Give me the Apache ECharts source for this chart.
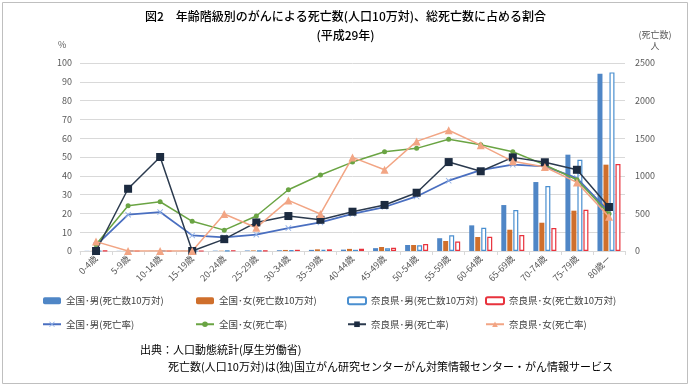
<!DOCTYPE html>
<html><head><meta charset="utf-8">
<script src="https://cdn.jsdelivr.net/npm/echarts@6/dist/echarts.min.js"></script>
<style>html,body{margin:0;padding:0;background:#fff}#c{width:691px;height:387px}</style>
</head><body><div id="c"></div>
<script>
const categories = ['0-4歳','5-9歳','10-14歳','15-19歳','20-24歳','25-29歳','30-34歳','35-39歳','40-44歳','45-49歳','50-54歳','55-59歳','60-64歳','65-69歳','70-74歳','75-79歳','80歳ー'];
const zenkokuMaleDeaths   = [2, 2, 2, 3, 4.5, 6.5, 10, 15, 18, 38, 80, 170, 341, 611, 917, 1281, 2358];
const zenkokuFemaleDeaths = [2, 1.5, 1.5, 2, 4, 7.5, 14, 22, 28, 53, 80, 133, 186, 283, 376, 536, 1148];
const naraMaleDeaths      = [0, 2, 2, 0, 3, 5, 8, 14, 16, 35, 75, 210, 310, 545, 864, 1214, 2375];
const naraFemaleDeaths    = [4, 0, 0, 0, 6, 5, 16, 22, 30, 44, 93, 126, 190, 213, 306, 549, 1157];
const zenkokuMaleRate   = [3, 19.3, 20.7, 8.3, 7.3, 8.7, 12.2, 15.2, 19.7, 23.4, 29.0, 37.4, 43.0, 45.9, 45.0, 38.8, 21.0];
const zenkokuFemaleRate = [3.5, 24.1, 26.2, 15.8, 11.1, 18.6, 32.6, 40.4, 47.3, 52.8, 54.6, 59.4, 56.5, 52.8, 45.8, 37.9, 19.8];
const naraMaleRate      = [0, 33.1, 50, 0, 6.3, 15.2, 18.6, 16.6, 20.9, 24.5, 31.0, 47.3, 42.4, 49.8, 47.2, 43.2, 23.4];
const naraFemaleRate    = [5, 0, 0, 0, 19.7, 12.4, 26.9, 19.7, 49.8, 43.2, 58.3, 64.2, 56.3, 47.7, 44.7, 36.5, 18.2];
const leftTicks = {min: 0, max: 100, interval: 10};
const rightTicks = {min: 0, max: 2500, interval: 500};

const FONT = '"Noto Sans CJK JP", "Noto Sans", sans-serif';
const chart = echarts.init(document.getElementById('c'), null, {renderer: 'canvas'});
const starPath = 'path://M0,1 L1,0 L5,4 L9,0 L10,1 L6,5 L10,9 L9,10 L5,6 L1,10 L0,9 L4,5 Z';
const legendText = {fontFamily: FONT, fontSize: 9.5, color: '#404040'};
function legendCol(left, names) {
  return {left: left, top: 296, orient: 'vertical', itemGap: 14, itemWidth: 18, itemHeight: 7,
    textStyle: legendText, data: names, selectedMode: false, padding: 0};
}
chart.setOption({
  animation: false,
  textStyle: {fontFamily: FONT},
  graphic: [
    {type: 'rect', shape: {x: 2.5, y: 2.5, width: 685, height: 381}, style: {fill: 'none', stroke: '#bfbfbf', lineWidth: 1}},
    {type: 'text', left: 'center', top: 10, style: {text: '図2　年齢階級別のがんによる死亡数(人口10万対)、総死亡数に占める割合', font: '500 12px ' + FONT, fill: '#000'}},
    {type: 'text', left: 'center', top: 29, style: {text: '(平成29年)', font: '500 12px ' + FONT, fill: '#000'}},
    {type: 'text', x: 58, y: 40, style: {text: '%', font: '9px ' + FONT, fill: '#595959'}},
    {type: 'text', x: 655, y: 30, style: {text: '(死亡数)', font: '9px ' + FONT, fill: '#595959', align: 'center'}},
    {type: 'text', x: 655, y: 41, style: {text: '人', font: '9px ' + FONT, fill: '#595959', align: 'center'}},
    {type: 'text', x: 140, y: 344, style: {text: '出典：人口動態統計(厚生労働省)', font: '11px ' + FONT, fill: '#000'}},
    {type: 'text', x: 168, y: 361, style: {text: '死亡数(人口10万対)は(独)国立がん研究センターがん対策情報センター・がん情報サービス', font: '11px ' + FONT, fill: '#000'}}
  ],
  grid: {left: 80, right: 66, top: 63, bottom: 136},
  legend: [
    legendCol(42, ['全国･男(死亡数10万対)', '全国･男(死亡率)']),
    legendCol(195, ['全国･女(死亡数10万対)', '全国･女(死亡率)']),
    legendCol(347, ['奈良県･男(死亡数10万対)', '奈良県･男(死亡率)']),
    legendCol(485, ['奈良県･女(死亡数10万対)', '奈良県･女(死亡率)'])
  ],
  xAxis: {
    type: 'category', data: categories, boundaryGap: true,
    axisLine: {lineStyle: {color: '#d9d9d9'}},
    axisTick: {show: true, alignWithLabel: false, length: 4, lineStyle: {color: '#d9d9d9'}},
    axisLabel: {rotate: 45, fontSize: 9, color: '#595959', margin: 6, interval: 0, fontFamily: FONT}
  },
  yAxis: [
    {type: 'value', min: leftTicks.min, max: leftTicks.max, interval: leftTicks.interval,
      axisLine: {show: false}, axisTick: {show: false},
      axisLabel: {fontSize: 9, color: '#595959', margin: 8, fontFamily: FONT},
      splitLine: {lineStyle: {color: '#d9d9d9'}}},
    {type: 'value', min: rightTicks.min, max: rightTicks.max, interval: rightTicks.interval, position: 'right',
      axisLine: {show: false}, axisTick: {show: false},
      axisLabel: {fontSize: 9, color: '#595959', margin: 10, fontFamily: FONT, formatter: v => String(v)},
      splitLine: {show: false}}
  ],
  series: [
    {name: '全国･男(死亡数10万対)', type: 'bar', yAxisIndex: 1, data: zenkokuMaleDeaths, barWidth: 5, barGap: '20%',
      itemStyle: {color: '#4f86c6'}},
    {name: '全国･女(死亡数10万対)', type: 'bar', yAxisIndex: 1, data: zenkokuFemaleDeaths, barWidth: 5, barGap: '20%',
      itemStyle: {color: '#cf6f2c'}},
    {name: '奈良県･男(死亡数10万対)', type: 'bar', yAxisIndex: 1, data: naraMaleDeaths, barWidth: 5, barGap: '20%',
      itemStyle: {color: '#ffffff', borderColor: '#4a8fd0', borderWidth: 1.2}},
    {name: '奈良県･女(死亡数10万対)', type: 'bar', yAxisIndex: 1, data: naraFemaleDeaths, barWidth: 5, barGap: '20%',
      itemStyle: {color: '#ffffff', borderColor: '#e8323c', borderWidth: 1.2}},
    {name: '全国･男(死亡率)', type: 'line', yAxisIndex: 0, data: zenkokuMaleRate, z: 5,
      symbol: starPath, symbolSize: 6, lineStyle: {color: '#4a6fc0', width: 1.8},
      itemStyle: {color: '#8fb0e8'}},
    {name: '全国･女(死亡率)', type: 'line', yAxisIndex: 0, data: zenkokuFemaleRate, z: 5,
      symbol: 'circle', symbolSize: 5, lineStyle: {color: '#6aa443', width: 1.5},
      itemStyle: {color: '#6aa443'}},
    {name: '奈良県･男(死亡率)', type: 'line', yAxisIndex: 0, data: naraMaleRate, z: 6,
      symbol: 'rect', symbolSize: 8, lineStyle: {color: '#2b3a4e', width: 1.5},
      itemStyle: {color: '#1c2b40'}},
    {name: '奈良県･女(死亡率)', type: 'line', yAxisIndex: 0, data: naraFemaleRate, z: 6,
      symbol: 'triangle', symbolSize: 8, lineStyle: {color: '#f2a584', width: 1.5},
      itemStyle: {color: '#f2a584'}}
  ]
});
</script></body></html>
